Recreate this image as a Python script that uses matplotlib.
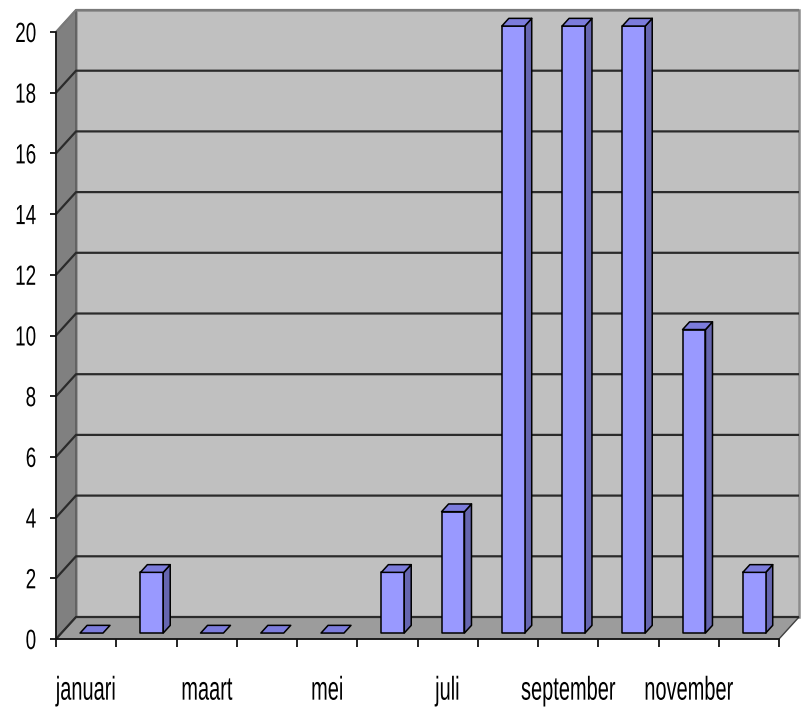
import numpy as np
import matplotlib
matplotlib.use('Agg')
import matplotlib.pyplot as plt
from matplotlib.patches import Polygon
from matplotlib import patheffects
from matplotlib.transforms import Affine2D

months = ['januari', 'februari', 'maart', 'april', 'mei', 'juni', 'juli',
          'augustus', 'september', 'oktober', 'november', 'december']
values = [0, 2, 0, 0, 0, 2, 4, 20, 20, 20, 10, 2]
yticks = list(range(0, 21, 2))

W, H, DPI = 805, 707, 100
plt.rcParams['font.family'] = ['Liberation Sans', 'DejaVu Sans']


class Squeeze(patheffects.AbstractPathEffect):
    # the original uses a narrow, tall font: scale glyphs to mimic it
    def __init__(self, sx, sy=1.0, anchor='center'):
        super().__init__()
        self.sx = sx
        self.sy = sy
        self.anchor = anchor

    def draw_path(self, renderer, gc, tpath, affine, rgbFace=None):
        ext = tpath.get_extents(affine)
        cx = ext.x1 if self.anchor == 'right' else (ext.x0 + ext.x1) / 2
        aff = (Affine2D().scale(1, self.sy) + affine
               + Affine2D().translate(-cx, 0).scale(self.sx, 1).translate(cx, 0))
        renderer.draw_path(gc, tpath, aff, rgbFace)


fig = plt.figure(figsize=(W / DPI, H / DPI), dpi=DPI)
left, right, bottom, top = 56, 779, 639, 32  # pixel edges of front plane
ax = fig.add_axes([left / W, (H - bottom) / H, (right - left) / W, (bottom - top) / H])
n = len(months)
ymax = yticks[-1]
ax.set_xlim(0, n)
ax.set_ylim(0, ymax)
ax.patch.set_visible(False)

# depth offset of the back wall, in data units
px_x = (right - left) / n
px_y = (bottom - top) / ymax
DX = 20 / px_x
DY = 22 / px_y


def pt(x, y, d):
    return (x + d * DX, y + d * DY)


wall_c = '#c0c0c0'
side_c = '#808080'
floor_c = '#9c9c9c'
edge_c = '#8c8c8c'

# back wall
ax.add_patch(Polygon([pt(0, 0, 1), pt(n, 0, 1), pt(n, ymax, 1), pt(0, ymax, 1)],
                     closed=True, fc=wall_c, ec=edge_c, lw=1.8, clip_on=False, zorder=1))
# left wall
ax.add_patch(Polygon([pt(0, 0, 0), pt(0, ymax, 0), pt(0, ymax, 1), pt(0, 0, 1)],
                     closed=True, fc=side_c, ec='#555555', lw=1.0, clip_on=False, zorder=1))
# floor
ax.add_patch(Polygon([pt(0, 0, 0), pt(n, 0, 0), pt(n, 0, 1), pt(0, 0, 1)],
                     closed=True, fc=floor_c, ec='#404040', lw=1.0, clip_on=False, zorder=2))

# gridlines on back and left walls
for v in yticks:
    c = '#2b2b2b' if v < ymax else '#7a7a7a'
    xs = [0, DX, n + DX]
    ys = [v, v + DY, v + DY]
    ax.plot(xs, ys, color=c, lw=1.6, clip_on=False, zorder=3,
            solid_capstyle='butt')

# bars
bw = 0.38
d_f, d_b = 0.27, 0.62
front_c = '#9999ff'
top_c = '#7c7cdc'
sidebar_c = '#6666b0'
for i, v in enumerate(values):
    x0 = i + 0.5 - bw / 2
    x1 = x0 + bw
    z = 5 + i * 0.01
    if v > 0:
        ax.add_patch(Polygon([pt(x1, 0, d_f), pt(x1, 0, d_b), pt(x1, v, d_b), pt(x1, v, d_f)],
                             closed=True, fc=sidebar_c, ec='black', lw=1.1,
                             joinstyle='round', clip_on=False, zorder=z))
        ax.add_patch(Polygon([pt(x0, 0, d_f), pt(x1, 0, d_f), pt(x1, v, d_f), pt(x0, v, d_f)],
                             closed=True, fc=front_c, ec='black', lw=1.1,
                             joinstyle='round', clip_on=False, zorder=z))
    ax.add_patch(Polygon([pt(x0, v, d_f), pt(x1, v, d_f), pt(x1, v, d_b), pt(x0, v, d_b)],
                         closed=True, fc=top_c, ec='black', lw=1.1,
                         joinstyle='round', clip_on=False, zorder=z))

# axes
for s in ['top', 'right']:
    ax.spines[s].set_visible(False)
for s in ['left', 'bottom']:
    ax.spines[s].set_color('#111111')
    ax.spines[s].set_linewidth(1.2)
    ax.spines[s].set_zorder(10)

ax.set_yticks(yticks)
ax.set_yticklabels([str(v) for v in yticks], fontsize=20)
ax.tick_params(axis='y', direction='out', length=4, width=1.2, pad=10)
for lab in ax.get_yticklabels():
    lab.set_path_effects([Squeeze(0.68, 1.0, 'right')])

ax.set_xticks(np.arange(0, n + 1))
ax.set_xticklabels([])
ax.tick_params(axis='x', which='major', direction='out', length=6, width=1.2)
ax.set_xticks(np.arange(0, n, 2) + 0.5, minor=True)
ax.set_xticklabels(months[::2], minor=True, fontsize=18)
ax.tick_params(axis='x', which='minor', length=0, pad=30)
for lab in ax.get_xticklabels(minor=True):
    lab.set_path_effects([Squeeze(0.8, 1.32)])

fig.savefig('out.png', dpi=DPI)
